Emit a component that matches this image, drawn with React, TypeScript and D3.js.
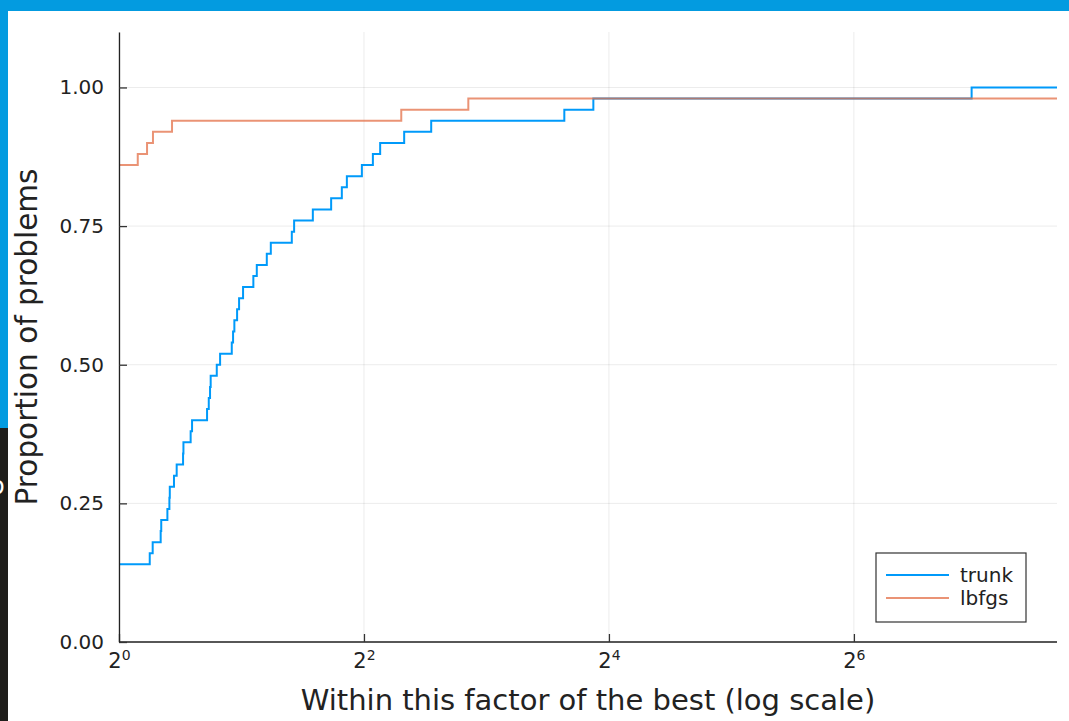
import React, { useRef, useEffect } from "react";
import * as d3 from "d3";

// performance profile
const trunkFactor = [
  1, 1.19, 1.21, 1.266, 1.27, 1.315, 1.33, 1.333, 1.365, 1.386, 1.437, 1.44,
  1.5, 1.512, 1.646, 1.662, 1.674, 1.68, 1.739, 1.772, 1.893, 1.907, 1.921,
  1.951, 1.973, 2.018, 2.139, 2.181, 2.308, 2.361, 2.659, 2.694, 2.995, 3.322,
  3.529, 3.631, 3.953, 4.207, 4.384, 5.022, 5.852, 12.43, 14.65, 124.6,
];
const trunkProportion = [
  0.14, 0.16, 0.18, 0.2, 0.22, 0.24, 0.26, 0.28, 0.3, 0.32, 0.34, 0.36, 0.38,
  0.4, 0.42, 0.44, 0.46, 0.48, 0.5, 0.52, 0.54, 0.56, 0.58, 0.6, 0.62, 0.64,
  0.66, 0.68, 0.7, 0.72, 0.74, 0.76, 0.78, 0.8, 0.82, 0.84, 0.86, 0.88, 0.9,
  0.92, 0.94, 0.96, 0.98, 1.0,
];
const lbfgsFactor = [1, 1.112, 1.172, 1.212, 1.35, 4.94, 7.22];
const lbfgsProportion = [0.86, 0.88, 0.9, 0.92, 0.94, 0.96, 0.98];

const seriesNames = ["trunk", "lbfgs"];
const seriesColors = ["#009AFA", "#E36F47"];

const xTicks = [1, 4, 16, 64];
const xTickExponents = ["0", "2", "4", "6"];
const yTicks = [0, 0.25, 0.5, 0.75, 1.0];
const yTickLabels = ["0.00", "0.25", "0.50", "0.75", "1.00"];
const xMax = 202;
const yMax = 1.1;

const App = () => {
  const svgRef = useRef<SVGSVGElement>(null);

  useEffect(() => {
    document.body.style.margin = "0";
    const svg = d3.select(svgRef.current);
    svg.selectAll("*").remove();

    const width = 1069;
    const height = 721;
    const left = 119;
    const right = 1057;
    const top = 32;
    const bottom = 642;
    const font = "'DejaVu Sans', sans-serif";

    // page around the plot
    svg.append("rect").attr("width", width).attr("height", height).attr("fill", "#fff");
    svg.append("rect").attr("width", width).attr("height", 11).attr("fill", "#039BE0");
    svg.append("rect").attr("width", 8).attr("height", 428).attr("fill", "#039BE0");
    svg
      .append("rect")
      .attr("y", 428)
      .attr("width", 8)
      .attr("height", height - 428)
      .attr("fill", "#1F1E1B");
    svg
      .append("text")
      .attr("x", -10)
      .attr("y", 494)
      .attr("fill", "#fff")
      .style("font-family", font)
      .style("font-size", "24px")
      .text("o");

    const x = d3.scaleLog().base(2).domain([1, xMax]).range([left, right]);
    const y = d3.scaleLinear().domain([0, yMax]).range([bottom, top]);

    // grid
    const grid = svg.append("g").attr("stroke", "#000").attr("stroke-opacity", 0.08);
    grid
      .selectAll("line.gx")
      .data(xTicks)
      .enter()
      .append("line")
      .attr("x1", (d) => x(d))
      .attr("x2", (d) => x(d))
      .attr("y1", top)
      .attr("y2", bottom);
    grid
      .selectAll("line.gy")
      .data(yTicks)
      .enter()
      .append("line")
      .attr("x1", left)
      .attr("x2", right)
      .attr("y1", (d) => y(d))
      .attr("y2", (d) => y(d));

    // series
    const line = d3
      .line<[number, number]>()
      .x((d) => x(d[0]))
      .y((d) => y(d[1]))
      .curve(d3.curveStepAfter);

    const series = [
      { factor: trunkFactor, proportion: trunkProportion, opacity: 1 },
      { factor: lbfgsFactor, proportion: lbfgsProportion, opacity: 0.75 },
    ];
    series.forEach((s, i) => {
      const pts: [number, number][] = s.factor.map((f, j) => [f, s.proportion[j]]);
      pts.push([xMax, s.proportion[s.proportion.length - 1]]);
      svg
        .append("path")
        .attr("d", line(pts))
        .attr("fill", "none")
        .attr("stroke", seriesColors[i])
        .attr("stroke-opacity", s.opacity)
        .attr("stroke-width", 2);
    });

    // axes
    const xAxis = d3
      .axisBottom(x)
      .tickValues(xTicks)
      .tickFormat(() => "")
      .tickSizeInner(-8)
      .tickSizeOuter(0)
      .tickPadding(11);
    const gx = svg
      .append("g")
      .attr("transform", "translate(0," + bottom + ")")
      .call(xAxis);

    const yAxis = d3
      .axisLeft(y)
      .tickValues(yTicks)
      .tickFormat((d, i) => yTickLabels[i])
      .tickSizeInner(-8)
      .tickSizeOuter(0)
      .tickPadding(15);
    const gy = svg
      .append("g")
      .attr("transform", "translate(" + left + ",0)")
      .call(yAxis);

    [gx, gy].forEach((g) => {
      g.attr("font-family", font).attr("font-size", 20);
      g.select(".domain").attr("stroke", "#222").attr("stroke-width", 1.3);
      g.selectAll(".tick line").attr("stroke", "#333").attr("stroke-width", 1.3);
      g.selectAll(".tick text").attr("fill", "#222");
    });
    gx.select(".domain").attr("d", "M" + left + ",0H" + right);

    // x tick labels as 2 with a raised exponent
    gx.selectAll<SVGTextElement, number>(".tick text").each(function (d, i) {
      const t = d3.select(this).attr("dy", null).attr("y", 26).attr("font-size", 21);
      t.append("tspan").text("2");
      t.append("tspan")
        .attr("font-size", 14)
        .attr("dy", -8)
        .text(xTickExponents[i]);
    });

    // axis titles
    svg
      .append("text")
      .attr("x", (left + right) / 2)
      .attr("y", 710)
      .attr("text-anchor", "middle")
      .attr("fill", "#222")
      .style("font-family", font)
      .style("font-size", "29px")
      .text("Within this factor of the best (log scale)");
    svg
      .append("text")
      .attr("transform", "translate(37," + (top + bottom) / 2 + ") rotate(-90)")
      .attr("text-anchor", "middle")
      .attr("fill", "#222")
      .style("font-family", font)
      .style("font-size", "29.5px")
      .text("Proportion of problems");

    // legend
    const legend = svg.append("g").attr("transform", "translate(876,553)");
    legend
      .append("rect")
      .attr("width", 150)
      .attr("height", 69)
      .attr("fill", "#fff")
      .attr("stroke", "#333")
      .attr("stroke-width", 1.2);
    seriesNames.forEach((name, i) => {
      legend
        .append("line")
        .attr("x1", 10)
        .attr("x2", 73)
        .attr("y1", 22 + i * 23)
        .attr("y2", 22 + i * 23)
        .attr("stroke", seriesColors[i])
        .attr("stroke-opacity", i === 1 ? 0.75 : 1)
        .attr("stroke-width", 2);
      legend
        .append("text")
        .attr("x", 84)
        .attr("y", 29 + i * 23)
        .attr("fill", "#222")
        .style("font-family", font)
        .style("font-size", "20px")
        .text(name);
    });
  }, []);

  return <svg ref={svgRef} width="1069" height="721" style={{ display: "block" }} />;
};

export default App;
